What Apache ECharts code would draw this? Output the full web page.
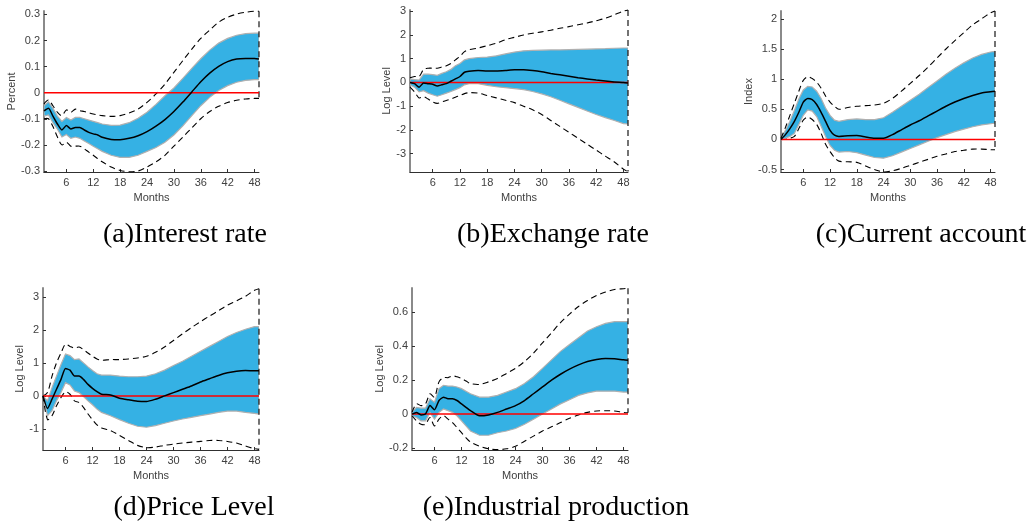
<!DOCTYPE html>
<html>
<head>
<meta charset="utf-8">
<script src="https://cdn.jsdelivr.net/npm/echarts@6/dist/echarts.min.js"></script>
<style>
html,body{margin:0;padding:0;background:#fff;}
#chart{width:1036px;height:531px;}
</style>
</head>
<body>
<div id="chart"></div>
<script>
// ---------- data ----------
const months = [1,2,3,4,5,6,7,8,9,10,11,12,13,14,16,18,20,22,24,26,28,30,32,34,36,38,40,42,44,46,48,49];
const xTicks = [6,12,18,24,30,36,42,48];
const zeroLine = [0, 0];

// (a) Interest rate
const aTicks = [-0.3,-0.2,-0.1,0,0.1,0.2,0.3];
const aMean   = [-0.07,-0.06,-0.09,-0.12,-0.143,-0.126,-0.139,-0.133,-0.133,-0.143,-0.152,-0.158,-0.162,-0.171,-0.179,-0.18,-0.175,-0.165,-0.149,-0.128,-0.103,-0.072,-0.036,0.003,0.042,0.075,0.101,0.119,0.129,0.131,0.131,0.129];
const aBandHi = [-0.05,-0.035,-0.06,-0.09,-0.11,-0.095,-0.105,-0.095,-0.095,-0.1,-0.105,-0.11,-0.115,-0.12,-0.125,-0.124,-0.115,-0.098,-0.075,-0.045,-0.012,0.018,0.055,0.093,0.13,0.163,0.19,0.208,0.22,0.226,0.228,0.228];
const aBandLo = [-0.09,-0.085,-0.115,-0.14,-0.17,-0.16,-0.175,-0.17,-0.175,-0.185,-0.195,-0.205,-0.215,-0.225,-0.24,-0.248,-0.248,-0.24,-0.225,-0.21,-0.19,-0.162,-0.127,-0.088,-0.05,-0.018,0.008,0.027,0.04,0.047,0.05,0.05];
const aDashHi = [-0.043,-0.028,-0.05,-0.075,-0.088,-0.066,-0.075,-0.063,-0.069,-0.072,-0.077,-0.082,-0.085,-0.088,-0.091,-0.088,-0.078,-0.063,-0.037,-0.005,0.033,0.078,0.123,0.167,0.208,0.24,0.27,0.289,0.301,0.308,0.312,0.312];
const aDashLo = [-0.1,-0.1,-0.13,-0.17,-0.2,-0.19,-0.205,-0.205,-0.205,-0.215,-0.228,-0.24,-0.253,-0.265,-0.285,-0.298,-0.303,-0.3,-0.285,-0.265,-0.24,-0.205,-0.17,-0.135,-0.1,-0.072,-0.052,-0.038,-0.029,-0.024,-0.022,-0.022];

// (b) Exchange rate
const bTicks = [-3,-2,-1,0,1,2,3];
const bMean   = [0,-0.05,-0.2,-0.02,-0.05,-0.08,-0.15,-0.1,-0.05,0.05,0.15,0.25,0.43,0.47,0.5,0.48,0.48,0.5,0.53,0.53,0.5,0.45,0.38,0.32,0.26,0.2,0.15,0.1,0.06,0.02,0.0,-0.02];
const bBandHi = [0.15,0.12,0.1,0.35,0.35,0.33,0.3,0.38,0.45,0.55,0.7,0.8,0.95,1.0,1.05,1.07,1.12,1.2,1.28,1.33,1.35,1.36,1.37,1.37,1.38,1.39,1.4,1.41,1.42,1.44,1.45,1.45];
const bBandLo = [-0.1,-0.2,-0.4,-0.35,-0.45,-0.52,-0.58,-0.52,-0.45,-0.38,-0.3,-0.22,-0.1,-0.05,-0.05,-0.12,-0.18,-0.22,-0.26,-0.3,-0.38,-0.48,-0.6,-0.75,-0.9,-1.05,-1.2,-1.35,-1.48,-1.6,-1.73,-1.75];
const bDashHi = [0.2,0.25,0.25,0.55,0.6,0.6,0.6,0.65,0.7,0.8,0.95,1.1,1.3,1.38,1.45,1.55,1.65,1.8,1.9,2.0,2.07,2.13,2.2,2.28,2.35,2.43,2.5,2.6,2.7,2.85,3.0,3.05];
const bDashLo = [-0.2,-0.4,-0.65,-0.6,-0.7,-0.82,-0.88,-0.82,-0.76,-0.7,-0.62,-0.55,-0.47,-0.43,-0.45,-0.55,-0.65,-0.75,-0.85,-1.0,-1.15,-1.35,-1.6,-1.85,-2.1,-2.35,-2.6,-2.85,-3.1,-3.35,-3.65,-3.75];

// (c) Current account
const cTicks = [-0.5,0,0.5,1,1.5,2];
const cMean   = [0,0.08,0.18,0.3,0.45,0.62,0.68,0.66,0.58,0.45,0.3,0.15,0.07,0.05,0.06,0.065,0.04,0.02,0.02,0.08,0.16,0.24,0.31,0.39,0.47,0.55,0.62,0.68,0.73,0.77,0.79,0.8];
const cBandHi = [0.02,0.15,0.3,0.48,0.67,0.82,0.88,0.87,0.8,0.68,0.52,0.4,0.32,0.3,0.33,0.34,0.33,0.33,0.36,0.45,0.55,0.65,0.75,0.86,0.97,1.08,1.18,1.27,1.35,1.41,1.45,1.46];
const cBandLo = [-0.01,0.02,0.05,0.1,0.25,0.4,0.49,0.47,0.38,0.22,0.05,-0.1,-0.18,-0.21,-0.2,-0.22,-0.26,-0.3,-0.31,-0.27,-0.21,-0.15,-0.09,-0.03,0.03,0.08,0.13,0.17,0.21,0.24,0.26,0.27];
const cDashHi = [0.02,0.2,0.4,0.6,0.8,0.98,1.04,1.01,0.95,0.85,0.72,0.62,0.55,0.5,0.53,0.55,0.56,0.57,0.6,0.68,0.8,0.93,1.06,1.2,1.35,1.5,1.64,1.77,1.9,2.0,2.1,2.13];
const cDashLo = [0,0,0.02,0.05,0.18,0.32,0.37,0.33,0.25,0.1,-0.08,-0.2,-0.3,-0.36,-0.37,-0.38,-0.44,-0.5,-0.54,-0.52,-0.48,-0.43,-0.38,-0.33,-0.28,-0.24,-0.2,-0.18,-0.16,-0.16,-0.17,-0.17];

// (d) Price Level
const dTicks = [-1,0,1,2,3];
const dMean   = [0,-0.38,-0.1,0.2,0.5,0.83,0.78,0.6,0.6,0.5,0.35,0.23,0.13,0.05,0.03,-0.07,-0.12,-0.16,-0.17,-0.1,0.0,0.1,0.2,0.3,0.42,0.52,0.62,0.7,0.75,0.77,0.76,0.76];
const dBandHi = [0,-0.15,0.25,0.6,0.95,1.27,1.22,1.1,1.12,1.0,0.88,0.77,0.67,0.63,0.63,0.6,0.58,0.58,0.6,0.67,0.78,0.92,1.05,1.2,1.35,1.5,1.65,1.8,1.92,2.02,2.1,2.1];
const dBandLo = [0,-0.6,-0.45,-0.15,0.1,0.4,0.33,0.15,0.1,-0.02,-0.15,-0.27,-0.4,-0.5,-0.6,-0.72,-0.83,-0.92,-0.95,-0.9,-0.83,-0.76,-0.7,-0.65,-0.6,-0.55,-0.5,-0.46,-0.46,-0.5,-0.53,-0.55];
const dDashHi = [0,0.1,0.6,1.0,1.3,1.57,1.5,1.45,1.48,1.4,1.3,1.2,1.12,1.08,1.1,1.1,1.12,1.15,1.2,1.32,1.48,1.68,1.88,2.07,2.25,2.42,2.58,2.75,2.88,3.02,3.2,3.25];
const dDashLo = [0,-0.72,-0.6,-0.3,-0.05,0.12,0.05,-0.15,-0.2,-0.35,-0.55,-0.72,-0.88,-0.97,-1.05,-1.2,-1.35,-1.5,-1.57,-1.55,-1.5,-1.46,-1.43,-1.4,-1.38,-1.35,-1.35,-1.38,-1.43,-1.52,-1.6,-1.62];

// (e) Industrial production
const eTicks = [-0.2,0,0.2,0.4,0.6];
const eMean   = [0,0.01,-0.005,0.0,0.05,0.025,0.08,0.1,0.09,0.09,0.08,0.06,0.04,0.02,-0.01,-0.005,0.01,0.03,0.05,0.08,0.12,0.16,0.2,0.235,0.265,0.29,0.31,0.322,0.328,0.327,0.32,0.318];
const eBandHi = [0.01,0.04,0.035,0.035,0.09,0.07,0.15,0.17,0.165,0.165,0.16,0.15,0.135,0.12,0.1,0.1,0.11,0.13,0.15,0.18,0.22,0.27,0.32,0.37,0.41,0.45,0.49,0.515,0.535,0.545,0.545,0.545];
const eBandLo = [-0.01,-0.02,-0.04,-0.04,0.01,-0.03,0.01,0.03,0.02,0.01,-0.01,-0.04,-0.07,-0.1,-0.125,-0.125,-0.11,-0.1,-0.085,-0.06,-0.03,0.0,0.03,0.06,0.085,0.11,0.125,0.135,0.135,0.135,0.13,0.13];
const eDashHi = [0.01,0.06,0.05,0.06,0.12,0.1,0.19,0.215,0.215,0.225,0.22,0.21,0.195,0.18,0.175,0.19,0.21,0.24,0.27,0.31,0.36,0.42,0.48,0.54,0.59,0.635,0.67,0.7,0.72,0.735,0.74,0.742];
const eDashLo = [-0.01,-0.04,-0.06,-0.06,-0.02,-0.07,-0.03,-0.01,-0.03,-0.05,-0.08,-0.11,-0.14,-0.165,-0.19,-0.205,-0.21,-0.205,-0.19,-0.16,-0.13,-0.1,-0.075,-0.05,-0.025,-0.005,0.01,0.018,0.02,0.018,0.01,0.008];

const yNames = ['Percent','Log Level','Index','Log Level','Log Level'];
const captions = ['(a)Interest rate','(b)Exchange rate','(c)Current account','(d)Price Level','(e)Industrial production'];

// ---------- layout / style ----------
const panels = [
  {grid:{left:44, top:11, width:215, height:161}, ymin:-0.304, ymax:0.313, ticks:aTicks, mean:aMean, bh:aBandHi, bl:aBandLo, dh:aDashHi, dl:aDashLo, gap:23},
  {grid:{left:410, top:10, width:218, height:162}, ymin:-3.77, ymax:3.05, ticks:bTicks, mean:bMean, bh:bBandHi, bl:bBandLo, dh:bDashHi, dl:bDashLo, gap:14},
  {grid:{left:781, top:11, width:214, height:161}, ymin:-0.54, ymax:2.13, ticks:cTicks, mean:cMean, bh:cBandHi, bl:cBandLo, dh:cDashHi, dl:cDashLo, gap:23},
  {grid:{left:43, top:288, width:216, height:162}, ymin:-1.64, ymax:3.27, ticks:dTicks, mean:dMean, bh:dBandHi, bl:dBandLo, dh:dDashHi, dl:dDashLo, gap:16},
  {grid:{left:412, top:288, width:216, height:162}, ymin:-0.212, ymax:0.744, ticks:eTicks, mean:eMean, bh:eBandHi, bl:eBandLo, dh:eDashHi, dl:eDashLo, gap:22}
];
const captionPos = [[185,235],[553,235],[921,235],[194,508],[556,508]];

const FONT = '"Liberation Sans", Arial, Helvetica, sans-serif';
const TXT = '#404040';

const grids = [], xAxes = [], yAxes = [], series = [], graphics = [];

panels.forEach((p, i) => {
  grids.push(p.grid);
  xAxes.push({
    type:'value', gridIndex:i, min:1, max:49,
    name:'Months', nameLocation:'middle', nameGap:20,
    nameTextStyle:{fontFamily:FONT, fontSize:11, color:TXT},
    axisLine:{show:true, onZero:false, lineStyle:{color:'#303030', width:1}},
    axisTick:{show:true, inside:true, length:3, customValues:xTicks, lineStyle:{color:'#303030'}},
    axisLabel:{show:true, customValues:xTicks, fontFamily:FONT, fontSize:11, color:TXT, margin:5},
    splitLine:{show:false}
  });
  yAxes.push({
    type:'value', gridIndex:i, min:p.ymin, max:p.ymax,
    name:yNames[i], nameLocation:'middle', nameGap:p.gap, nameRotate:90,
    nameTextStyle:{fontFamily:FONT, fontSize:11, color:TXT},
    axisLine:{show:true, onZero:false, lineStyle:{color:'#8a8a8a', width:2}},
    axisTick:{show:true, inside:true, length:3, customValues:p.ticks, lineStyle:{color:'#303030'}},
    axisLabel:{show:true, customValues:p.ticks, fontFamily:FONT, fontSize:11, color:TXT, margin:4,
      formatter: v => String(v)},
    splitLine:{show:false}
  });

  // confidence band (filled polygon)
  series.push({
    type:'custom', xAxisIndex:i, yAxisIndex:i, coordinateSystem:'cartesian2d', z:1, silent:true, clip:true,
    data:[[months[0], p.mean[0]]],
    renderItem:(params, api) => {
      const pts = [];
      for (let k = 0; k < months.length; k++) pts.push(api.coord([months[k], p.bh[k]]));
      for (let k = months.length - 1; k >= 0; k--) pts.push(api.coord([months[k], p.bl[k]]));
      return {type:'polygon', shape:{points:pts, smooth:0}, style:{fill:'#35b1e4', stroke:'#b0b0b0', lineWidth:1.2}};
    }
  });
  // dashed outer bands, closed at the right end
  series.push({
    type:'custom', xAxisIndex:i, yAxisIndex:i, coordinateSystem:'cartesian2d', z:2, silent:true, clip:false,
    data:[[months[0], p.mean[0]]],
    renderItem:(params, api) => {
      const hi = [], lo = [];
      for (let k = 0; k < months.length; k++) {
        hi.push(api.coord([months[k], p.dh[k]]));
        lo.push(api.coord([months[k], p.dl[k]]));
      }
      const last = months.length - 1;
      const st = {stroke:'#000', lineWidth:1.1, lineDash:[6,4], fill:null};
      return {type:'group', children:[
        {type:'polyline', shape:{points:hi, smooth:0.3}, style:st},
        {type:'polyline', shape:{points:lo, smooth:0.3}, style:st},
        {type:'line', shape:{x1:hi[last][0], y1:hi[last][1], x2:lo[last][0], y2:lo[last][1]}, style:st}
      ]};
    }
  });
  // zero line
  series.push({
    type:'line', xAxisIndex:i, yAxisIndex:i, z:3, silent:true, showSymbol:false,
    data:[[1, zeroLine[0]], [49, zeroLine[1]]],
    lineStyle:{color:'#ff0000', width:1.5}
  });
  // median response
  series.push({
    type:'line', xAxisIndex:i, yAxisIndex:i, z:4, silent:true, showSymbol:false, smooth:0.2,
    data:months.map((m, k) => [m, p.mean[k]]),
    lineStyle:{color:'#000', width:1.5}
  });

  graphics.push({
    type:'text', x:captionPos[i][0], y:captionPos[i][1], silent:true,
    style:{text:captions[i], fontFamily:'"Liberation Serif", "Times New Roman", serif', fontSize:28,
      fill:'#000', align:'center', verticalAlign:'middle'}
  });
});

const chart = echarts.init(document.getElementById('chart'), null, {renderer:'canvas'});
chart.setOption({
  animation:false,
  backgroundColor:'#ffffff',
  grid:grids, xAxis:xAxes, yAxis:yAxes, series:series, graphic:graphics
});
</script>
</body>
</html>
